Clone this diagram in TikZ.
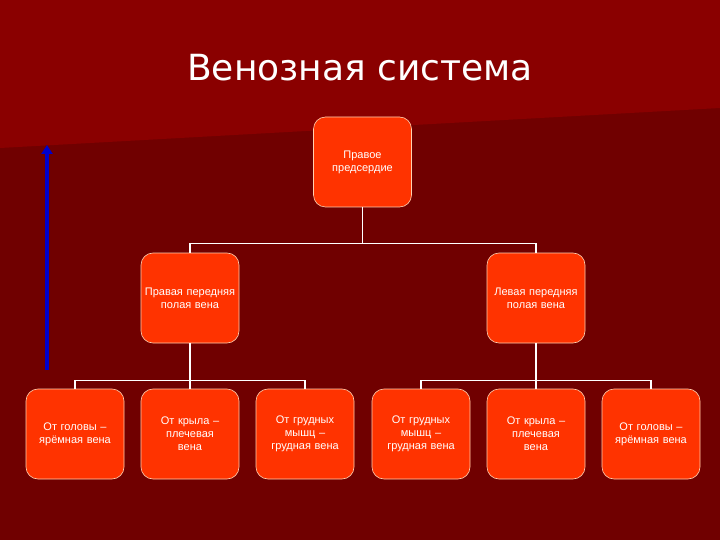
\documentclass[tikz,border=0pt]{standalone}
\usepackage{fontspec}
\setmainfont{Liberation Sans}
\newfontfamily\titlefont{DejaVu Sans}
\usetikzlibrary{arrows.meta}
\definecolor{bgdark}{HTML}{700000}
\definecolor{bglight}{HTML}{8A0000}
\definecolor{boxfill}{HTML}{FF3300}
\definecolor{boxline}{HTML}{FFD0B0}
\begin{document}
\begin{tikzpicture}[x=1pt,y=-1pt,
  box/.style={draw=boxline,line width=0.6pt,fill=boxfill,rounded corners=12pt,minimum width=98pt,minimum height=90pt,text width=96pt,align=center,text=white,font=\fontsize{11}{13}\selectfont,inner sep=1pt},
  conn/.style={draw=white,line width=1.5pt}]
\fill[bgdark] (0,0) rectangle (720,540);
\fill[bglight] (0,0) -- (720,0) -- (720,108) -- (0,148) -- cycle;
\useasboundingbox (0,0) rectangle (720,540);
\node[text=white,font=\titlefont\fontsize{36}{42}\selectfont] (title) at (360,68) {Венозная система};
\coordinate (ab) at (47,370);
\coordinate (at) at (47,145);
\draw[blue!80!black,line width=4pt,-{Triangle[length=9pt,width=11pt]}] (ab) -- (at);
\node[box] (top) at (362.5,162) {Правое\\предсердие};
\node[box] (r) at (190,298) {Правая передняя\\полая вена};
\node[box] (l) at (536,298) {Левая передняя\\полая вена};
\node[box] (b1) at (75,434) {От головы –\\ярёмная вена};
\node[box] (b2) at (190,434) {От крыла –\\плечевая\\вена};
\node[box] (b3) at (305,434) {От грудных\\мышц –\\грудная вена};
\node[box] (b4) at (421,434) {От грудных\\мышц –\\грудная вена};
\node[box] (b5) at (536,434) {От крыла –\\плечевая\\вена};
\node[box] (b6) at (651,434) {От головы –\\ярёмная вена};
\draw[conn] (top.south) -- ++(0,36) -| (r.north);
\draw[conn] (top.south) -- ++(0,36) -| (l.north);
\draw[conn] (r.south) -- (b2.north);
\draw[conn] (r.south) -- ++(0,37) -| (b1.north);
\draw[conn] (r.south) -- ++(0,37) -| (b3.north);
\draw[conn] (l.south) -- (b5.north);
\draw[conn] (l.south) -- ++(0,37) -| (b4.north);
\draw[conn] (l.south) -- ++(0,37) -| (b6.north);
\end{tikzpicture}
\end{document}
